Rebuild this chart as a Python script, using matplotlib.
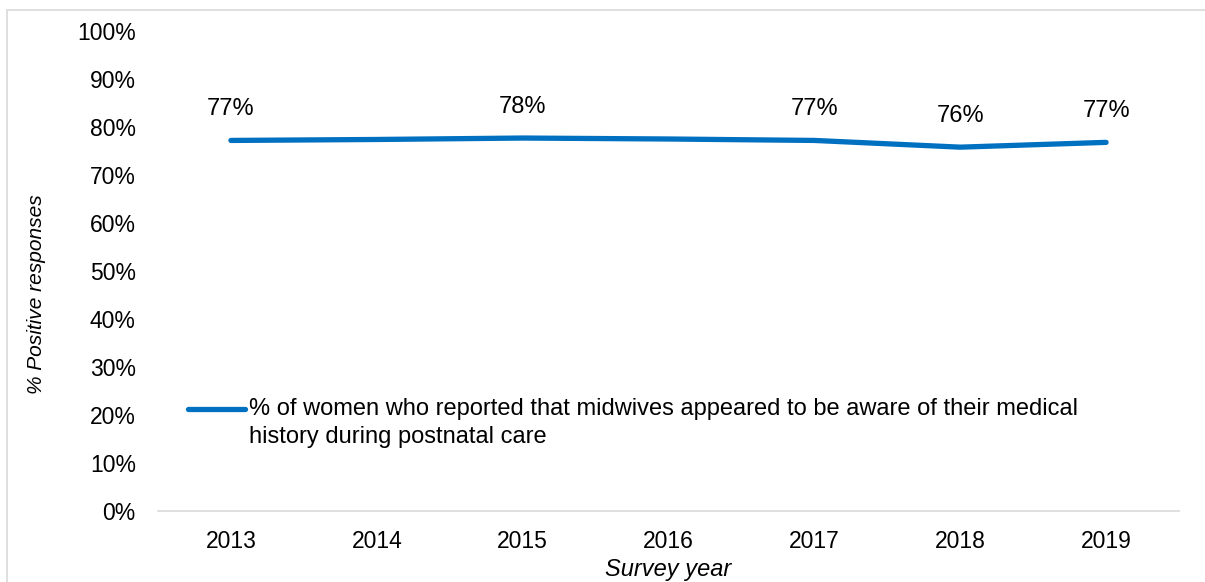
import matplotlib
matplotlib.use("Agg")
import matplotlib.pyplot as plt
from matplotlib.patches import Rectangle
from matplotlib.legend_handler import HandlerLine2D

years = ["2013", "2014", "2015", "2016", "2017", "2018", "2019"]
values = [77.2, 77.4, 77.7, 77.5, 77.2, 75.8, 76.8]
labelled = ["2013", "2015", "2017", "2018", "2019"]
series_name = ("% of women who reported that midwives appeared to be aware of their medical\n"
               "history during postnatal care")
yticks = [0, 10, 20, 30, 40, 50, 60, 70, 80, 90, 100]
ytick_labels = [f"{v}%" for v in yticks]

plt.rcParams['font.family'] = ['Liberation Sans', 'DejaVu Sans']
FS_TICK = 16.5
FS_LAB = 17
FS_LEG = 17
color = "#0070C0"

fig = plt.figure(figsize=(12.05, 5.82), dpi=100)
fig.patches.append(Rectangle((7/1205, -0.05), 1.2, 1.05 - 10/582, transform=fig.transFigure,
                             fill=False, edgecolor="#d9d9d9", linewidth=1.2))
ax = fig.add_axes([158/1205, 1 - 511/582, (1179 - 158)/1205, (511 - 31)/582])

x = list(range(len(years)))
ax.plot(x, values, color=color, linewidth=3.8, solid_capstyle="round", label=series_name)

for i, (yr, v) in enumerate(zip(years, values)):
    if yr in labelled:
        ax.annotate(f"{round(v):.0f}%", (i, v), xytext=(0, 22.5), textcoords="offset points",
                    ha="center", va="center", fontsize=FS_LAB, color="#000000")

ax.set_xlim(-0.5, len(years) - 0.5)
ax.set_ylim(0, 100)
ax.set_xticks(x)
ax.set_xticklabels(years, fontsize=FS_TICK)
ax.set_yticks(yticks)
ax.set_yticklabels(ytick_labels, fontsize=FS_TICK)
ax.tick_params(axis="both", length=0)
ax.tick_params(axis="x", pad=14)
ax.tick_params(axis="y", pad=16)

for s in ["top", "right", "left"]:
    ax.spines[s].set_visible(False)
ax.spines["bottom"].set_color("#d9d9d9")
ax.spines["bottom"].set_linewidth(1.2)

ax.set_xlabel("Survey year", fontsize=FS_LAB, style="italic", labelpad=3)
ax.set_ylabel("% Positive responses", fontsize=15, style="italic")
ax.yaxis.set_label_coords((46 - 158) / 1021, (511 - 294) / 480)


class FirstLineHandler(HandlerLine2D):
    def create_artists(self, legend, orig_handle, xdescent, ydescent, width, height,
                       fontsize, trans):
        arts = super().create_artists(legend, orig_handle, xdescent, ydescent, width,
                                      height, fontsize, trans)
        for a in arts:
            yd = a.get_ydata()
            a.set_ydata([y + 10.0 for y in yd])
        return arts


leg = ax.legend(loc="upper left", bbox_to_anchor=(30/1021, 1 - (398 - 31)/480), frameon=False,
                fontsize=FS_LEG, handlelength=2.4, handletextpad=0.2, borderaxespad=0,
                borderpad=0, handler_map={matplotlib.lines.Line2D: FirstLineHandler()})
for t in leg.get_texts():
    t.set_linespacing(1.35)

fig.savefig("out.png", dpi=100)
